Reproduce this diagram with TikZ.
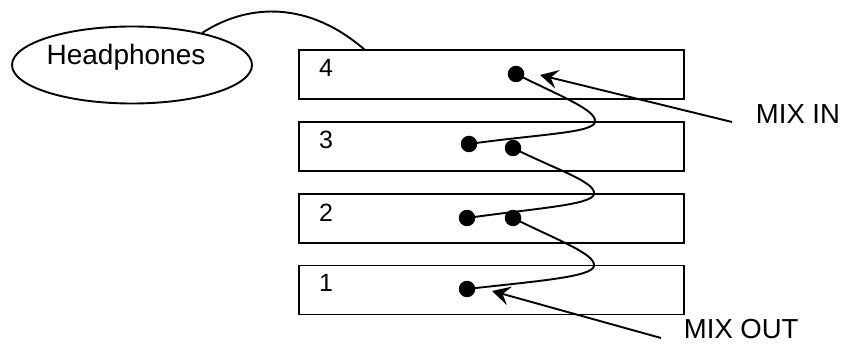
\documentclass[tikz,border=0pt]{standalone}
\usepackage{fontspec}
\setmainfont{Liberation Sans}
\usetikzlibrary{shapes.geometric,arrows.meta,calc}
\begin{document}
\begin{tikzpicture}[x=1pt,y=-1pt,
  line width=1.9pt,
  chan/.style={draw,rectangle,minimum width=385pt,minimum height=49pt,inner sep=0pt},
  jack/.style={circle,fill=black,minimum size=16.5pt,inner sep=0pt},
  num/.style={anchor=base,inner sep=0pt,font=\fontsize{25}{29}\selectfont},
  lbl/.style={anchor=base west,inner sep=0pt,font=\fontsize{27.5}{31}\selectfont},
  pointer/.style={-{Stealth[length=18pt,width=19pt,inset=7pt]},line width=1.9pt},
  cable/.style={line width=1.9pt}]
\useasboundingbox (0,0) rectangle (845,344);

% headphones
\node[draw,ellipse,minimum width=240pt,minimum height=77pt,inner sep=0pt] (hp) at (132,65) {};
\node[anchor=base,inner sep=0pt,font=\fontsize{28}{32}\selectfont] (hptext) at (126,65) {Headphones};

% channel strips
\node[chan] (b4) at (491.5,74.5) {};
\node[chan] (b3) at (491.5,146.5) {};
\node[chan] (b2) at (491.5,218.5) {};
\node[chan] (b1) at (491.5,290) {};

\node[num] (n4) at ([shift={(28,27)}]b4.north west) {4};
\node[num] (n3) at ([shift={(28,27)}]b3.north west) {3};
\node[num] (n2) at ([shift={(28,28)}]b2.north west) {2};
\node[num] (n1) at ([shift={(28,27)}]b1.north west) {1};

% headphone cable
\coordinate (hpc) at (202,33);
\coordinate (cab) at (365,50);
\draw[cable] (hpc) .. controls (250,2) and (310,2) .. (cab);

% jacks
\node[jack] (d4) at (516,74) {};
\node[jack] (d3a) at (469,144) {};
\node[jack] (d3b) at (513,148) {};
\node[jack] (d2a) at (467,218) {};
\node[jack] (d2b) at (513,218) {};
\node[jack] (d1) at (467,289) {};

% patch cables
\coordinate (t1) at (595,122);
\coordinate (t2) at (594,194);
\coordinate (t3) at (594,266);
\draw[cable] (d4.center) .. controls (560,96) and (597,110) .. (t1)
  .. controls (593,133) and (540,134) .. (d3a.center);
\draw[cable] (d3b.center) .. controls (557,170) and (596,182) .. (t2)
  .. controls (592,205) and (538,208) .. (d2a.center);
\draw[cable] (d2b.center) .. controls (557,240) and (596,254) .. (t3)
  .. controls (592,277) and (538,281) .. (d1.center);

% labels and pointers
\node[lbl] (mixin) at (755,124) {MIX IN};
\node[lbl] (mixout) at (683,338) {MIX OUT};
\coordinate (inend) at (732,122);
\coordinate (intip) at (540,75);
\coordinate (outend) at (661,338);
\coordinate (outtip) at (492,291);
\draw[pointer] (inend) -- (intip);
\draw[pointer] (outend) -- (outtip);
\end{tikzpicture}
\end{document}
